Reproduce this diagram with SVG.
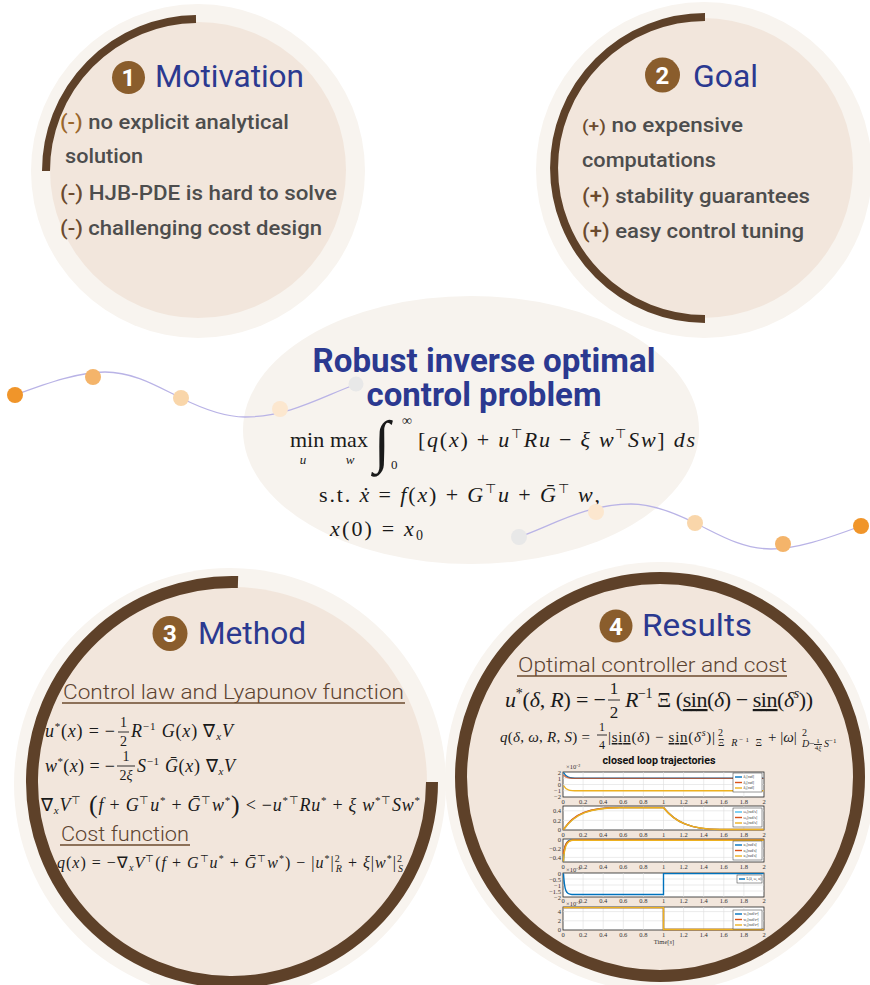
<svg xmlns="http://www.w3.org/2000/svg" width="870" height="985" viewBox="0 0 870 985">
<style>
.outer{fill:#f8f4ef}
.inner{fill:#f2e6dc}
.arc{fill:none;stroke:#5e4129;stroke-width:8}
.arcb{fill:none;stroke:#5e4129;stroke-width:12}
.badge{fill:#8a5d2c}
.bnum{font-family:Roboto,"Liberation Sans",sans-serif;font-weight:700;font-size:24px;fill:#fff;text-anchor:middle}
.title{font-family:Roboto,"Liberation Sans",sans-serif;font-size:32px;fill:#2b3990}
.body{font-family:Roboto,"Liberation Sans",sans-serif;font-size:20px;font-weight:500;fill:#4d4d4d}
.mk{fill:#6b4a2e}
.mk1{fill:#9a672c}
.sub{font-family:Roboto,"Liberation Sans",sans-serif;font-size:20px;font-weight:300;fill:#5c4330}
.ul{stroke:#6b4a2e;stroke-width:1.5}
.big{font-family:Roboto,"Liberation Sans",sans-serif;font-size:34px;font-weight:700;fill:#2b3990;text-anchor:middle}
.m{font-family:"Liberation Serif","Times New Roman",serif;fill:#1a1a1a}
.i{font-style:italic}
.fr{stroke:#1a1a1a;stroke-width:0.9}
.wave{fill:none;stroke:#b9b3e6;stroke-width:1.3}
.box{fill:#fff;stroke:#222;stroke-width:0.8}
.grid{fill:none;stroke:#dedede;stroke-width:0.6}
.tk{font-family:"Liberation Serif",serif;font-size:6.5px;fill:#333}
.tkx{font-family:"Liberation Serif",serif;font-size:6.5px;fill:#333;text-anchor:middle}
.tky{font-family:"Liberation Serif",serif;font-size:6.5px;fill:#333;text-anchor:end}
.lg{fill:#fff;stroke:#333;stroke-width:0.5}
.lt{font-family:"Liberation Serif",serif;font-size:3.8px;fill:#333}
.cb{fill:none;stroke:#0072bd;stroke-width:1.4}
.cr{fill:none;stroke:#d95319;stroke-width:1.4}
.cy{fill:none;stroke:#edb120;stroke-width:1.4}
.cl{fill:none;stroke:#4dbeee;stroke-width:1.4}
</style>

<g id="problem">
  <ellipse cx="471" cy="430" rx="228" ry="134" fill="#f7f3ee"/>
  <text class="big"><tspan x="484" y="372" textLength="343" lengthAdjust="spacingAndGlyphs">Robust inverse optimal</tspan><tspan x="484" y="406" textLength="235" lengthAdjust="spacingAndGlyphs">control problem</tspan></text>
  <text class="m" x="290" y="447" font-size="22">min</text>
  <text class="m i" x="303" y="464" font-size="13" text-anchor="middle">u</text>
  <text class="m" x="330" y="447" font-size="22">max</text>
  <text class="m i" x="350" y="464" font-size="13" text-anchor="middle">w</text>
  <text class="m i" x="374" y="461" font-size="58">∫</text>
  <text class="m" x="402" y="425" font-size="14">∞</text>
  <text class="m" x="391" y="469" font-size="13">0</text>
  <text class="m" x="418" y="447" font-size="22" textLength="277">[<tspan class="i">q</tspan>(<tspan class="i">x</tspan>) + <tspan class="i">u</tspan><tspan font-size="13" dy="-9">⊤</tspan><tspan class="i" dy="9">Ru</tspan> − <tspan class="i">ξ w</tspan><tspan font-size="13" dy="-9">⊤</tspan><tspan class="i" dy="9">Sw</tspan>] <tspan class="i">ds</tspan></text>
  <text class="m" x="319" y="502" font-size="22" textLength="281">s.t. <tspan class="i">ẋ</tspan> = <tspan class="i">f</tspan>(<tspan class="i">x</tspan>) + <tspan class="i">G</tspan><tspan font-size="13" dy="-9">⊤</tspan><tspan class="i" dy="9">u</tspan> + <tspan class="i">Ḡ</tspan><tspan font-size="13" dy="-9">⊤</tspan><tspan class="i" dy="9"> w</tspan>,</text>
  <text class="m" x="330" y="536" font-size="22" textLength="93"><tspan class="i">x</tspan>(0) = <tspan class="i">x</tspan><tspan font-size="14" dy="4">0</tspan></text>
</g>

<g id="motivation">
  <circle class="outer" cx="198" cy="171" r="167"/>
  <circle class="inner" cx="198" cy="170" r="148"/>
  <path class="arc" d="M46,171 A152,152 0 0 1 196,19"/>
  <circle class="badge" cx="128.5" cy="77.5" r="16.5"/>
  <text class="bnum" x="128.5" y="86">1</text>
  <text class="title" x="155" y="87" textLength="149" lengthAdjust="spacingAndGlyphs">Motivation</text>
  <text class="body" x="60" y="129" textLength="229" lengthAdjust="spacingAndGlyphs"><tspan class="mk1">(-)</tspan> no explicit analytical</text>
  <text class="body" x="65" y="163" textLength="78" lengthAdjust="spacingAndGlyphs">solution</text>
  <text class="body" x="60" y="200" textLength="277" lengthAdjust="spacingAndGlyphs"><tspan class="mk">(-)</tspan> HJB-PDE is hard to solve</text>
  <text class="body" x="60" y="235" textLength="262" lengthAdjust="spacingAndGlyphs"><tspan class="mk">(-)</tspan> challenging cost design</text>
</g>

<g id="goal">
  <circle class="outer" cx="704" cy="170" r="168"/>
  <circle class="inner" cx="703" cy="168" r="150"/>
  <path class="arc" d="M705,17 A151,151 0 0 0 705,319"/>
  <circle class="badge" cx="662.5" cy="75" r="17.5"/>
  <text class="bnum" x="662.5" y="84">2</text>
  <text class="title" x="693" y="87" textLength="65" lengthAdjust="spacingAndGlyphs">Goal</text>
  <text class="body" x="582" y="132" textLength="161" lengthAdjust="spacingAndGlyphs"><tspan class="mk" font-size="17">(+)</tspan> no expensive</text>
  <text class="body" x="582" y="167" textLength="134" lengthAdjust="spacingAndGlyphs">computations</text>
  <text class="body" x="582" y="203" textLength="228" lengthAdjust="spacingAndGlyphs"><tspan class="mk">(+)</tspan> stability guarantees</text>
  <text class="body" x="582" y="238" textLength="222" lengthAdjust="spacingAndGlyphs"><tspan class="mk">(+)</tspan> easy control tuning</text>
</g>

<g id="method">
  <circle class="outer" cx="230" cy="784" r="216"/>
  <circle class="inner" cx="232" cy="782" r="195"/>
  <path class="arcb" d="M238,582 A200,200 0 1 0 432,782"/>
  <circle class="badge" cx="170" cy="633.5" r="17.5"/>
  <text class="bnum" x="170" y="642">3</text>
  <text class="title" x="198" y="644" textLength="108" lengthAdjust="spacingAndGlyphs">Method</text>
  <text class="sub" x="63" y="699" textLength="341" lengthAdjust="spacingAndGlyphs">Control law and Lyapunov function</text>
  <line class="ul" x1="62" y1="703" x2="405" y2="703"/>
  <text class="m" x="45" y="737" font-size="18" textLength="70"><tspan class="i">u</tspan><tspan font-size="11" dy="-7">*</tspan><tspan dy="7">(</tspan><tspan class="i">x</tspan>) = −</text>
  <text class="m" x="123.5" y="727" font-size="14" text-anchor="middle">1</text>
  <line class="fr" x1="118" y1="732" x2="129" y2="732"/>
  <text class="m" x="123.5" y="746" font-size="14" text-anchor="middle">2</text>
  <text class="m" x="131" y="737" font-size="18" textLength="102"><tspan class="i">R</tspan><tspan font-size="11" dy="-7">−1</tspan><tspan class="i" dy="7"> G</tspan>(<tspan class="i">x</tspan>) ∇<tspan class="i" font-size="11" dy="3">x</tspan><tspan class="i" dy="-3">V</tspan></text>
  <text class="m" x="45" y="772" font-size="18" textLength="70"><tspan class="i">w</tspan><tspan font-size="11" dy="-7">*</tspan><tspan dy="7">(</tspan><tspan class="i">x</tspan>) = −</text>
  <text class="m" x="126" y="761" font-size="14" text-anchor="middle">1</text>
  <line class="fr" x1="117" y1="766" x2="135" y2="766"/>
  <text class="m" x="126" y="780" font-size="14" text-anchor="middle">2<tspan class="i">ξ</tspan></text>
  <text class="m" x="137" y="772" font-size="18" textLength="98"><tspan class="i">S</tspan><tspan font-size="11" dy="-7">−1</tspan><tspan class="i" dy="7"> Ḡ</tspan>(<tspan class="i">x</tspan>) ∇<tspan class="i" font-size="11" dy="3">x</tspan><tspan class="i" dy="-3">V</tspan></text>
  <text class="m" x="41" y="811" font-size="18" textLength="379">∇<tspan class="i" font-size="11" dy="3">x</tspan><tspan class="i" dy="-3">V</tspan><tspan font-size="11" dy="-7">⊤</tspan><tspan font-size="26" dy="9"> (</tspan><tspan class="i" dy="-2">f</tspan> + <tspan class="i">G</tspan><tspan font-size="11" dy="-7">⊤</tspan><tspan class="i" dy="7">u</tspan><tspan font-size="11" dy="-7">*</tspan><tspan dy="7"> + </tspan><tspan class="i">Ḡ</tspan><tspan font-size="11" dy="-7">⊤</tspan><tspan class="i" dy="7">w</tspan><tspan font-size="11" dy="-7">*</tspan><tspan font-size="26" dy="9">)</tspan><tspan dy="-2"> &lt; −</tspan><tspan class="i">u</tspan><tspan font-size="11" dy="-7">*⊤</tspan><tspan class="i" dy="7">Ru</tspan><tspan font-size="11" dy="-7">*</tspan><tspan dy="7"> + </tspan><tspan class="i">ξ w</tspan><tspan font-size="11" dy="-7">*⊤</tspan><tspan class="i" dy="7">Sw</tspan><tspan font-size="11" dy="-7">*</tspan></text>
  <text class="sub" x="61" y="841" textLength="128" lengthAdjust="spacingAndGlyphs">Cost function</text>
  <line class="ul" x1="60" y1="845" x2="190" y2="845"/>
  <text class="m" x="57" y="868" font-size="16" textLength="346"><tspan class="i">q</tspan>(<tspan class="i">x</tspan>) = −∇<tspan class="i" font-size="10" dy="3">x</tspan><tspan class="i" dy="-3">V</tspan><tspan font-size="10" dy="-6">⊤</tspan><tspan dy="6">(</tspan><tspan class="i">f</tspan> + <tspan class="i">G</tspan><tspan font-size="10" dy="-6">⊤</tspan><tspan class="i" dy="6">u</tspan><tspan font-size="10" dy="-6">*</tspan><tspan dy="6"> + </tspan><tspan class="i">Ḡ</tspan><tspan font-size="10" dy="-6">⊤</tspan><tspan class="i" dy="6">w</tspan><tspan font-size="10" dy="-6">*</tspan><tspan dy="6">) − |</tspan><tspan class="i">u</tspan><tspan font-size="10" dy="-6">*</tspan><tspan dy="6">|</tspan><tspan font-size="10" dy="-6">2</tspan><tspan class="i" font-size="10" dx="-5" dy="10">R</tspan><tspan dy="-4"> + </tspan><tspan class="i">ξ</tspan>|<tspan class="i">w</tspan><tspan font-size="10" dy="-6">*</tspan><tspan dy="6">|</tspan><tspan font-size="10" dy="-6">2</tspan><tspan class="i" font-size="10" dx="-5" dy="10">S</tspan></text>
</g>

<g id="results">
  <circle class="outer" cx="660" cy="777" r="215"/>
  <circle class="inner" cx="660" cy="777" r="196"/>
  <circle class="arcb" cx="660" cy="777" r="199"/>
  <circle class="badge" cx="616" cy="626" r="16.5"/>
  <text class="bnum" x="616" y="634.5">4</text>
  <text class="title" x="642" y="636" textLength="110" lengthAdjust="spacingAndGlyphs">Results</text>
  <text class="sub" x="518" y="672" textLength="269" lengthAdjust="spacingAndGlyphs">Optimal controller and cost</text>
  <line class="ul" x1="517" y1="676" x2="787" y2="676"/>
  <text class="m" x="505" y="707" font-size="22" textLength="101"><tspan class="i">u</tspan><tspan font-size="14" dy="-9">*</tspan><tspan dy="9">(</tspan><tspan class="i">δ</tspan>, <tspan class="i">R</tspan>) = −</text>
  <text class="m" x="614" y="694" font-size="17" text-anchor="middle">1</text>
  <line class="fr" x1="608" y1="700" x2="620" y2="700"/>
  <text class="m" x="614" y="718" font-size="17" text-anchor="middle">2</text>
  <text class="m" x="625" y="707" font-size="22" textLength="188"><tspan class="i">R</tspan><tspan font-size="14" dy="-9">−1</tspan><tspan dy="9"> Ξ (</tspan><tspan text-decoration="underline">sin</tspan>(<tspan class="i">δ</tspan>) − <tspan text-decoration="underline">sin</tspan>(<tspan class="i">δ</tspan><tspan class="i" font-size="14" dy="-9">s</tspan><tspan dy="9">))</tspan></text>
  <text class="m" x="500" y="742" font-size="15" textLength="90"><tspan class="i">q</tspan>(<tspan class="i">δ</tspan>, <tspan class="i">ω</tspan>, <tspan class="i">R</tspan>, <tspan class="i">S</tspan>) =</text>
  <text class="m" x="602" y="731" font-size="12" text-anchor="middle">1</text>
  <line class="fr" x1="597" y1="735" x2="607" y2="735"/>
  <text class="m" x="602" y="749" font-size="12" text-anchor="middle">4</text>
  <text class="m" x="608" y="742" font-size="15" textLength="107">|<tspan text-decoration="underline">sin</tspan>(<tspan class="i">δ</tspan>) − <tspan text-decoration="underline">sin</tspan>(<tspan class="i">δ</tspan><tspan class="i" font-size="10" dy="-6">s</tspan><tspan dy="6">)|</tspan></text>
  <text class="m" x="718" y="736" font-size="10">2</text>
  <text class="m" x="718" y="746" font-size="10" textLength="44">Ξ <tspan class="i">R</tspan><tspan font-size="7" dy="-4">−1</tspan><tspan dy="4"> Ξ</tspan></text>
  <text class="m" x="768" y="742" font-size="15">+ |<tspan class="i">ω</tspan>|</text>
  <text class="m" x="802" y="736" font-size="10">2</text>
  <text class="m i" x="802" y="747" font-size="10">D</text>
  <text class="m" x="809" y="747" font-size="10">−</text>
  <text class="m" x="818" y="743" font-size="7" text-anchor="middle">1</text>
  <line class="fr" x1="814" y1="744.5" x2="822" y2="744.5" stroke-width="0.5"/>
  <text class="m" x="818" y="750" font-size="7" text-anchor="middle">4<tspan class="i">ξ</tspan></text>
  <text class="m" x="824" y="747" font-size="10"><tspan class="i">S</tspan><tspan font-size="7" dy="-4">−1</tspan></text>
  <text x="659" y="764" font-family="Roboto,'Liberation Sans',sans-serif" font-size="11" font-weight="700" fill="#111" text-anchor="middle" textLength="113" lengthAdjust="spacingAndGlyphs">closed loop trajectories</text>

  <g id="plots">
    <rect class="box" x="563" y="772" width="201" height="25"/>
    <path class="grid" d="M583.1,772V797M603.2,772V797M623.3,772V797M643.4,772V797M663.5,772V797M683.6,772V797M703.7,772V797M723.8,772V797M743.9,772V797M563,778.25H764M563,784.5H764M563,790.75H764"/>
    <path class="cb" d="M563.5,772.5 C566,777 569,778.2 578,778.2 L763.5,778.2"/>
    <path class="cr" d="M563.5,775 C566,778 569,778.4 578,778.4 L763.5,778.4" opacity="0.75"/>
    <path class="cy" d="M563.5,785.5 C566,790 569,790.8 578,790.8 L763.5,790.8"/>
    <rect class="lg" x="733" y="773" width="29" height="19"/>
    <line class="cb" x1="735" y1="777" x2="742" y2="777" stroke-width="1"/><text class="lt" x="743.5" y="778.3">δ₁[rad]</text>
    <line class="cr" x1="735" y1="782.5" x2="742" y2="782.5" stroke-width="1"/><text class="lt" x="743.5" y="783.8">δ₂[rad]</text>
    <line class="cy" x1="735" y1="788" x2="742" y2="788" stroke-width="1"/><text class="lt" x="743.5" y="789.3">δ₃[rad]</text>
    <text class="tk" x="566" y="769" font-size="5.5">×10⁻²</text>
    <text class="tky" x="561" y="774.5">2</text><text class="tky" x="561" y="780.5">1</text><text class="tky" x="561" y="786.8">0</text><text class="tky" x="561" y="793">−1</text><text class="tky" x="561" y="799">−2</text>
    <g class="tkx"><text x="563" y="803.5">0</text><text x="583.1" y="803.5">0.2</text><text x="603.2" y="803.5">0.4</text><text x="623.3" y="803.5">0.6</text><text x="643.4" y="803.5">0.8</text><text x="663.5" y="803.5">1</text><text x="683.6" y="803.5">1.2</text><text x="703.7" y="803.5">1.4</text><text x="723.8" y="803.5">1.6</text><text x="743.9" y="803.5">1.8</text><text x="764" y="803.5">2</text></g>

    <rect class="box" x="563" y="806" width="201" height="24"/>
    <path class="grid" d="M583.1,806V830M603.2,806V830M623.3,806V830M643.4,806V830M663.5,806V830M683.6,806V830M703.7,806V830M723.8,806V830M743.9,806V830M563,810.8H764M563,820.4H764"/>
    <path class="cl" d="M563.5,829.5 C575,813 590,807.5 620,807.5 L663.5,807.5 C675,822 690,829.5 720,829.5 L763.5,829.5"/>
    <path class="cr" d="M563.5,829.5 C574,813 589,807.5 620,807.5 L663.5,807.5 C675,822 690,829.5 720,829.5 L763.5,829.5"/>
    <path class="cy" d="M563.5,829.5 C575,813.5 590,807.7 620,807.7 L663.5,807.7 C675,822 690,829.5 720,829.5 L763.5,829.5"/>
    <rect class="lg" x="733" y="808" width="29" height="19"/>
    <line class="cl" x1="735" y1="812" x2="742" y2="812" stroke-width="1"/><text class="lt" x="743.5" y="813.3">ω₁[rad/s]</text>
    <line class="cr" x1="735" y1="817.5" x2="742" y2="817.5" stroke-width="1"/><text class="lt" x="743.5" y="818.8">ω₂[rad/s]</text>
    <line class="cy" x1="735" y1="823" x2="742" y2="823" stroke-width="1"/><text class="lt" x="743.5" y="824.3">ω₃[rad/s]</text>
    <text class="tky" x="561" y="813">0.4</text><text class="tky" x="561" y="822.7">0.2</text><text class="tky" x="561" y="832">0</text>
    <g class="tkx"><text x="563" y="836.5">0</text><text x="583.1" y="836.5">0.2</text><text x="603.2" y="836.5">0.4</text><text x="623.3" y="836.5">0.6</text><text x="643.4" y="836.5">0.8</text><text x="663.5" y="836.5">1</text><text x="683.6" y="836.5">1.2</text><text x="703.7" y="836.5">1.4</text><text x="723.8" y="836.5">1.6</text><text x="743.9" y="836.5">1.8</text><text x="764" y="836.5">2</text></g>

    <rect class="box" x="563" y="839" width="201" height="23"/>
    <path class="grid" d="M583.1,839V862M603.2,839V862M623.3,839V862M643.4,839V862M663.5,839V862M683.6,839V862M703.7,839V862M723.8,839V862M743.9,839V862M563,848.2H764M563,857.4H764"/>
    <path class="cb" d="M563.5,861.5 C564,846 566,840 572,840 L763.5,840"/>
    <path class="cr" d="M563.5,854 C564.5,844 567,840 574,840 L763.5,840"/>
    <path class="cy" d="M563.5,861.5 C564.2,847 566.5,840.3 573,840.3 L763.5,840.3"/>
    <rect class="lg" x="733" y="841" width="29" height="19"/>
    <line class="cb" x1="735" y1="845" x2="742" y2="845" stroke-width="1"/><text class="lt" x="743.5" y="846.3">u₁[rad/s]</text>
    <line class="cr" x1="735" y1="850.5" x2="742" y2="850.5" stroke-width="1"/><text class="lt" x="743.5" y="851.8">u₂[rad/s]</text>
    <line class="cy" x1="735" y1="856" x2="742" y2="856" stroke-width="1"/><text class="lt" x="743.5" y="857.3">u₃[rad/s]</text>
    <text class="tky" x="561" y="841.5">0</text><text class="tky" x="561" y="850.5">−0.2</text><text class="tky" x="561" y="860">−0.4</text>
    <g class="tkx"><text x="563" y="868.5">0</text><text x="583.1" y="868.5">0.2</text><text x="603.2" y="868.5">0.4</text><text x="623.3" y="868.5">0.6</text><text x="643.4" y="868.5">0.8</text><text x="663.5" y="868.5">1</text><text x="683.6" y="868.5">1.2</text><text x="703.7" y="868.5">1.4</text><text x="723.8" y="868.5">1.6</text><text x="743.9" y="868.5">1.8</text><text x="764" y="868.5">2</text></g>

    <rect class="box" x="563" y="873" width="201" height="24"/>
    <path class="grid" d="M583.1,873V897M603.2,873V897M623.3,873V897M643.4,873V897M663.5,873V897M683.6,873V897M703.7,873V897M723.8,873V897M743.9,873V897M563,879H764M563,885H764M563,891H764"/>
    <path class="cb" d="M563.5,873.5 C564.5,891 566,894.5 572,894.5 L663.5,894.5 L663.5,873.6 L763.5,873.6"/>
    <rect class="lg" x="737" y="875" width="25" height="8"/>
    <line class="cb" x1="739" y1="879" x2="745" y2="879" stroke-width="1"/><text class="lt" x="746.5" y="880.3">L(δ, ω, u)</text>
    <text class="tk" x="566" y="872" font-size="4.6">×10⁻³</text>
    <text class="tky" x="561" y="875.5">0</text><text class="tky" x="561" y="881.5">−0.5</text><text class="tky" x="561" y="887.5">−1</text><text class="tky" x="561" y="893.5">−1.5</text><text class="tky" x="561" y="899.5">−2</text>
    <g class="tkx"><text x="563" y="903">0</text><text x="583.1" y="903">0.2</text><text x="603.2" y="903">0.4</text><text x="623.3" y="903">0.6</text><text x="643.4" y="903">0.8</text><text x="663.5" y="903">1</text><text x="683.6" y="903">1.2</text><text x="703.7" y="903">1.4</text><text x="723.8" y="903">1.6</text><text x="743.9" y="903">1.8</text><text x="764" y="903">2</text></g>

    <rect class="box" x="563" y="907" width="201" height="23"/>
    <path class="grid" d="M583.1,907V930M603.2,907V930M623.3,907V930M643.4,907V930M663.5,907V930M683.6,907V930M703.7,907V930M723.8,907V930M743.9,907V930M563,911.6H764M563,920.8H764"/>
    <path class="cb" d="M563.5,907.6 L663.5,907.6 L663.5,929.5 L763.5,929.5"/>
    <path class="cr" d="M563.5,907.6 L663.5,907.6 L663.5,929.5 L763.5,929.5"/>
    <path class="cy" d="M563.5,907.6 L663.5,907.6 L663.5,929.5 L763.5,929.5"/>
    <rect class="lg" x="733" y="910" width="29" height="19"/>
    <line class="cb" x1="735" y1="914" x2="742" y2="914" stroke-width="1"/><text class="lt" x="743.5" y="915.3">w₁[rad/s²]</text>
    <line class="cr" x1="735" y1="919.5" x2="742" y2="919.5" stroke-width="1"/><text class="lt" x="743.5" y="920.8">w₂[rad/s²]</text>
    <line class="cy" x1="735" y1="925" x2="742" y2="925" stroke-width="1"/><text class="lt" x="743.5" y="926.3">w₃[rad/s²]</text>
    <text class="tk" x="566" y="906" font-size="4.6">×10⁻³</text>
    <text class="tky" x="561" y="914">4</text><text class="tky" x="561" y="923">2</text><text class="tky" x="561" y="932">0</text>
    <g class="tkx"><text x="563" y="936.5">0</text><text x="583.1" y="936.5">0.2</text><text x="603.2" y="936.5">0.4</text><text x="623.3" y="936.5">0.6</text><text x="643.4" y="936.5">0.8</text><text x="663.5" y="936.5">1</text><text x="683.6" y="936.5">1.2</text><text x="703.7" y="936.5">1.4</text><text x="723.8" y="936.5">1.6</text><text x="743.9" y="936.5">1.8</text><text x="764" y="936.5">2</text></g>
    <text class="tkx" x="664" y="944">Time[<tspan font-style="italic">s</tspan>]</text>
  </g>
</g>

<g id="connectors">
  <path class="wave" d="M15,395 C50,382 80,372 105,372 C135,372 160,388 181,398 C205,410 225,417 245,417 C290,417 325,395 357,384"/>
  <path class="wave" d="M15,395 C50,382 80,372 105,372 C135,372 160,388 181,398 C205,410 225,417 245,417 C290,417 325,395 357,384" transform="rotate(180 438 460.5)"/>
  <circle cx="15" cy="395" r="8" fill="#f0952a"/>
  <circle cx="93" cy="377" r="8" fill="#f4b46a"/>
  <circle cx="181" cy="398" r="8" fill="#f9d6aa"/>
  <circle cx="280" cy="409" r="8" fill="#fce7cf"/>
  <circle cx="356" cy="384" r="7.5" fill="#e8e8e8"/>
  <circle cx="519" cy="537" r="8" fill="#e8e8e8"/>
  <circle cx="596" cy="512" r="8" fill="#fce7cf"/>
  <circle cx="695" cy="523" r="8" fill="#f9d6aa"/>
  <circle cx="783" cy="544" r="8" fill="#f4b46a"/>
  <circle cx="861" cy="526" r="8" fill="#f0952a"/>
</g>
</svg>
